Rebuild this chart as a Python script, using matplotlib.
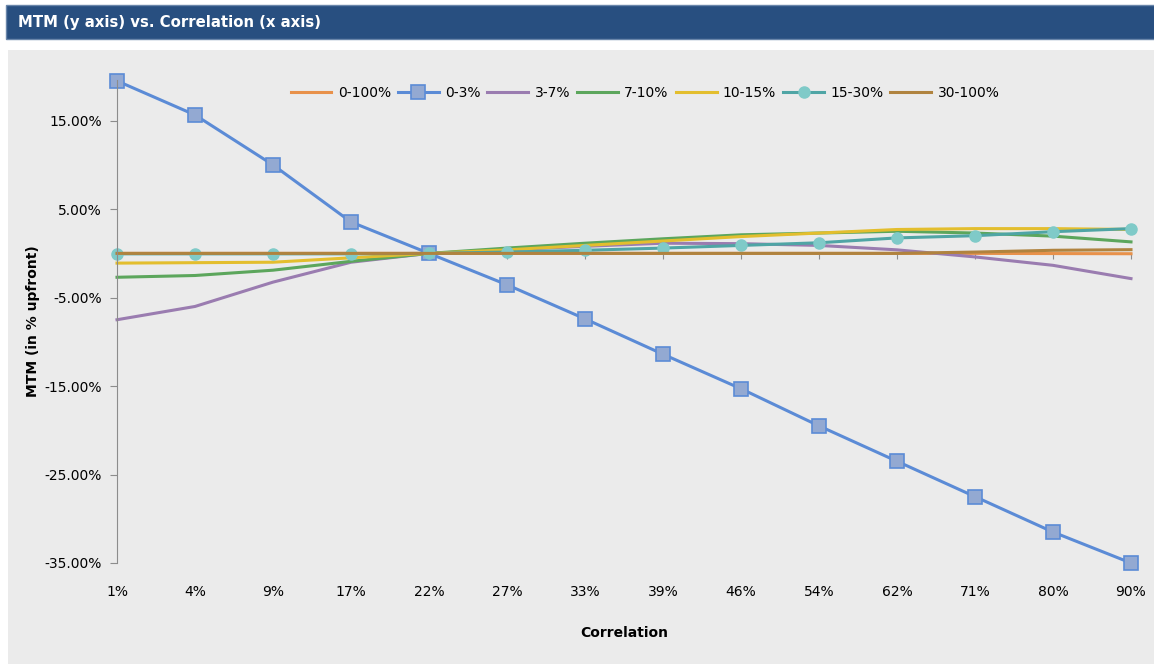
import matplotlib.pyplot as plt
from matplotlib.patches import Rectangle
import matplotlib.transforms as mtransforms

plt.rcParams['font.family'] = ['DejaVu Sans']

# Dane (MTM w % upfront)
correlation = ['1%', '4%', '9%', '17%', '22%', '27%', '33%', '39%', '46%', '54%', '62%', '71%', '80%', '90%']
tranche_names = ['0-100%', '0-3%', '3-7%', '7-10%', '10-15%', '15-30%', '30-100%']
mtm_0_100 = [0, 0, 0, 0, 0, 0, 0, 0, 0, 0, 0, 0, -0.02, -0.04]
mtm_0_3 = [19.5, 15.65, 10.0, 3.55, 0, -3.55, -7.4, -11.4, -15.3, -19.5, -23.5, -27.5, -31.5, -35.0]
mtm_3_7 = [-7.5, -6.0, -3.25, -1.0, 0, 0.4, 0.8, 1.15, 1.1, 0.9, 0.4, -0.4, -1.35, -2.85]
mtm_7_10 = [-2.7, -2.5, -1.9, -0.9, 0, 0.6, 1.15, 1.65, 2.1, 2.3, 2.5, 2.3, 1.95, 1.3]
mtm_10_15 = [-1.1, -1.05, -1.0, -0.5, 0, 0.4, 0.9, 1.4, 1.9, 2.3, 2.7, 2.8, 2.8, 2.7]
mtm_15_30 = [-0.05, -0.05, -0.05, -0.05, 0, 0.15, 0.35, 0.6, 0.9, 1.2, 1.75, 2.0, 2.45, 2.8]
mtm_30_100 = [0, 0, 0, 0, 0, 0, 0, 0, 0, 0, 0, 0.15, 0.35, 0.42]
y_ticks = [-35, -25, -15, -5, 5, 15]

W, H = 1154, 664
fig = plt.figure(figsize=(W / 100, H / 100), dpi=100, facecolor='white')

# tło wykresu i pasek tytułu
fig.patches.append(Rectangle((8 / W, 0), 1, 1 - 50 / H, transform=fig.transFigure,
                             facecolor='#EBEBEB', edgecolor='none', zorder=-2))
fig.patches.append(Rectangle((6 / W, 1 - 39 / H), 1, 34 / H, transform=fig.transFigure,
                             facecolor='#284F80', edgecolor='#6A86AA', linewidth=1, zorder=-2))
fig.text(18 / W, 1 - 22 / H, 'MTM (y axis) vs. Correlation (x axis)', color='white',
         fontsize=10.7, fontweight='bold', ha='left', va='center')

ax = fig.add_axes([117 / W, 1 - 563 / H, (1131 - 117) / W, (563 - 80) / H])
ax.set_facecolor('none')

x = list(range(len(correlation)))
ax.plot(x, mtm_0_100, color='#E8914A', lw=2.2, label=tranche_names[0], clip_on=False)
ax.plot(x, mtm_0_3, color='#5B8BD6', lw=2.2, marker='s', markersize=10,
        markerfacecolor='#93A9D2', markeredgecolor='#5B8BD6', markeredgewidth=1.2,
        label=tranche_names[1], clip_on=False)
ax.plot(x, mtm_3_7, color='#9A7CB0', lw=2.2, label=tranche_names[2], clip_on=False)
ax.plot(x, mtm_7_10, color='#5CA65C', lw=2.2, label=tranche_names[3], clip_on=False)
ax.plot(x, mtm_10_15, color='#E3BE2E', lw=2.2, label=tranche_names[4], clip_on=False)
ax.plot(x, mtm_15_30, color='#4FA5A5', lw=2.2, marker='o', markersize=8,
        markerfacecolor='#7FCAC8', markeredgecolor='#7FCAC8', label=tranche_names[5],
        clip_on=False)
ax.plot(x, mtm_30_100, color='#B0833F', lw=2.2, label=tranche_names[6], clip_on=False)

ax.set_xlim(0, len(correlation) - 1)
ax.set_ylim(-35, 19.6)
ax.set_yticks(y_ticks)
ax.set_yticklabels([f'{v:.2f}%' for v in y_ticks], fontsize=10)
ax.set_xticks(x)
ax.tick_params(axis='x', labelbottom=False, direction='out', length=4, color='#8C8C8C')
ax.tick_params(axis='y', direction='out', length=5, color='#8C8C8C', pad=6)

for side in ['top', 'right']:
    ax.spines[side].set_visible(False)
ax.spines['left'].set_color('#8C8C8C')
ax.spines['bottom'].set_color('#8C8C8C')
ax.spines['bottom'].set_position(('data', 0))
ax.spines['bottom'].set_zorder(0.5)

trans = mtransforms.blended_transform_factory(ax.transData, fig.transFigure)
for i, lab in enumerate(correlation):
    ax.text(i, 1 - 592 / H, lab, transform=trans, ha='center', va='center', fontsize=10)

fig.text(624 / W, 1 - 633 / H, 'Correlation', ha='center', va='center',
         fontsize=10, fontweight='bold')
fig.text(33 / W, 1 - 321 / H, 'MTM (in % upfront)', ha='center', va='center',
         rotation=90, fontsize=10, fontweight='bold')

fig.legend(loc='center', bbox_to_anchor=(645 / W, 1 - 93 / H), ncol=7, frameon=False,
           fontsize=10, handlelength=2.95, handletextpad=0.45, columnspacing=0.5)

fig.savefig('out.png', dpi=100)
